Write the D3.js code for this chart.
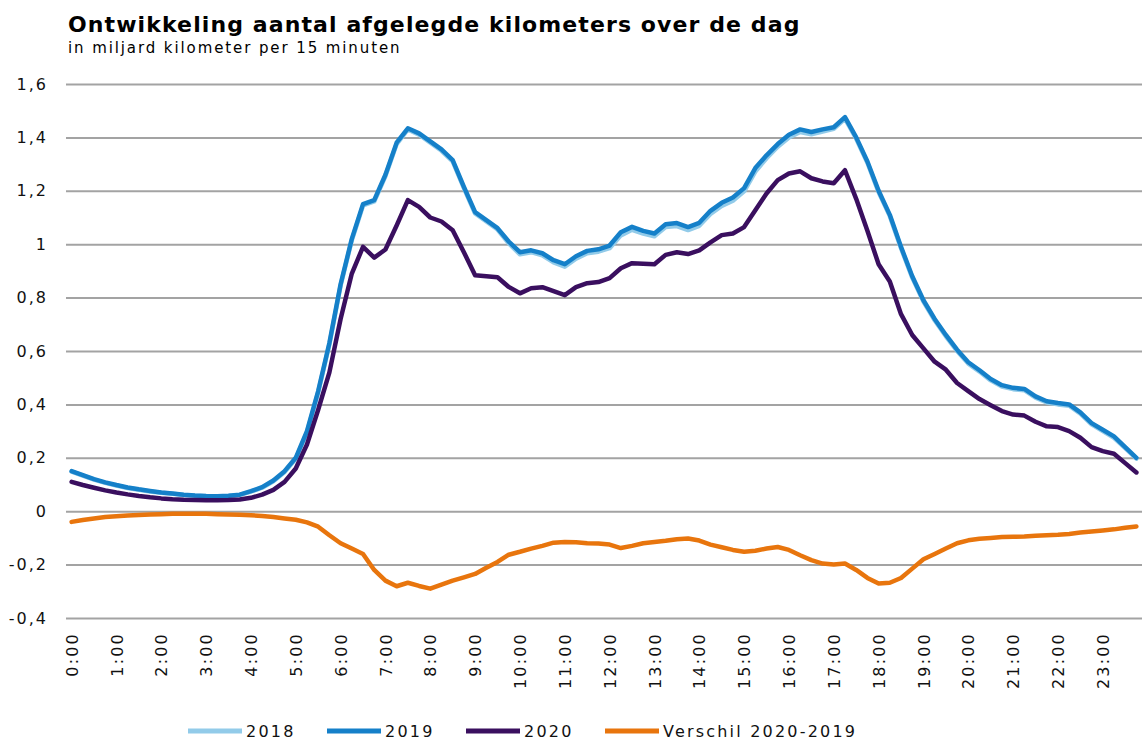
<!DOCTYPE html>
<html>
<head>
<meta charset="utf-8">
<script src="https://cdn.jsdelivr.net/npm/d3@7"></script>
<style>
  body { margin: 0; background: #fff; }
  svg { display: block; font-family: Verdana, "DejaVu Sans", sans-serif; }
</style>
</head>
<body>
<svg id="chart" width="1144" height="740"></svg>
<script>
// quarter-hour slots of the day (0:00 .. 23:45)
var quarters = d3.range(96).map(function (i) {
  return Math.floor(i / 4) + ":" + String((i % 4) * 15).padStart(2, "0");
});
var hourLabels = ["0:00", "1:00", "2:00", "3:00", "4:00", "5:00", "6:00", "7:00", "8:00", "9:00", "10:00", "11:00",
  "12:00", "13:00", "14:00", "15:00", "16:00", "17:00", "18:00", "19:00", "20:00", "21:00", "22:00", "23:00"];
var yTicks = [-0.4, -0.2, 0, 0.2, 0.4, 0.6, 0.8, 1.0, 1.2, 1.4, 1.6];
var seriesNames = ["2018", "2019", "2020", "Verschil 2020-2019"];

var km2018 = [0.148, 0.133, 0.118, 0.106, 0.096, 0.087, 0.080, 0.074, 0.069, 0.065, 0.061, 0.058,
  0.056, 0.055, 0.057, 0.061, 0.073, 0.088, 0.112, 0.147, 0.196, 0.295, 0.445, 0.625,
  0.845, 1.015, 1.145, 1.160, 1.255, 1.375, 1.430, 1.410, 1.380, 1.350, 1.310, 1.210,
  1.115, 1.085, 1.055, 1.003, 0.962, 0.970, 0.958, 0.932, 0.916, 0.946, 0.966, 0.972,
  0.985, 1.033, 1.054, 1.040, 1.030, 1.064, 1.068, 1.053, 1.069, 1.113, 1.143, 1.163,
  1.198, 1.272, 1.322, 1.365, 1.400, 1.420, 1.412, 1.422, 1.432, 1.470, 1.395, 1.305,
  1.195, 1.105, 0.985, 0.875, 0.785, 0.715, 0.655, 0.600, 0.553, 0.523, 0.490, 0.467,
  0.457, 0.453, 0.425, 0.407, 0.400, 0.395, 0.365, 0.325, 0.300, 0.275, 0.236, 0.197];

var km2019 = [0.150, 0.135, 0.120, 0.108, 0.098, 0.089, 0.082, 0.076, 0.070, 0.066, 0.062, 0.059,
  0.057, 0.056, 0.058, 0.062, 0.075, 0.090, 0.115, 0.150, 0.200, 0.300, 0.450, 0.630,
  0.850, 1.020, 1.150, 1.165, 1.260, 1.380, 1.434, 1.415, 1.385, 1.355, 1.315, 1.215,
  1.120, 1.090, 1.060, 1.010, 0.970, 0.977, 0.966, 0.940, 0.925, 0.955, 0.975, 0.981,
  0.995, 1.045, 1.065, 1.050, 1.040, 1.075, 1.079, 1.064, 1.080, 1.125, 1.155, 1.175,
  1.210, 1.285, 1.333, 1.375, 1.410, 1.430, 1.420, 1.430, 1.438, 1.476, 1.400, 1.310,
  1.200, 1.110, 0.990, 0.880, 0.790, 0.720, 0.660, 0.605, 0.558, 0.528, 0.495, 0.472,
  0.462, 0.458, 0.430, 0.412, 0.405, 0.400, 0.370, 0.330, 0.305, 0.280, 0.240, 0.200];

var km2020 = [0.110, 0.098, 0.088, 0.078, 0.070, 0.063, 0.057, 0.052, 0.048, 0.045, 0.043, 0.042,
  0.041, 0.041, 0.042, 0.044, 0.050, 0.062, 0.080, 0.110, 0.160, 0.250, 0.380, 0.520,
  0.720, 0.890, 0.990, 0.950, 0.980, 1.070, 1.165, 1.140, 1.100, 1.085, 1.052, 0.970,
  0.884, 0.880, 0.876, 0.840, 0.816, 0.835, 0.839, 0.824, 0.809, 0.839, 0.854, 0.858,
  0.873, 0.910, 0.929, 0.927, 0.925, 0.960, 0.970, 0.963, 0.977, 1.007, 1.034, 1.040,
  1.064, 1.127, 1.190, 1.240, 1.265, 1.273, 1.247, 1.235, 1.228, 1.277, 1.170, 1.050,
  0.925, 0.860, 0.738, 0.660, 0.610, 0.560, 0.530, 0.480, 0.450, 0.420, 0.397, 0.375,
  0.362, 0.358, 0.335, 0.318, 0.315, 0.300, 0.275, 0.240, 0.225, 0.215, 0.180, 0.145];

var verschil = [-0.040, -0.033, -0.027, -0.022, -0.019, -0.016, -0.014, -0.012, -0.011, -0.010, -0.010, -0.010,
  -0.010, -0.011, -0.012, -0.013, -0.015, -0.018, -0.022, -0.027, -0.032, -0.042, -0.058, -0.090,
  -0.120, -0.140, -0.160, -0.220, -0.260, -0.281, -0.268, -0.280, -0.290, -0.275, -0.260, -0.248,
  -0.235, -0.212, -0.190, -0.163, -0.152, -0.140, -0.130, -0.118, -0.115, -0.116, -0.120, -0.121,
  -0.125, -0.138, -0.130, -0.120, -0.115, -0.111, -0.105, -0.102, -0.110, -0.125, -0.135, -0.145,
  -0.152, -0.148, -0.140, -0.134, -0.145, -0.165, -0.183, -0.196, -0.200, -0.196, -0.220, -0.250,
  -0.271, -0.268, -0.250, -0.215, -0.180, -0.160, -0.140, -0.120, -0.109, -0.103, -0.100, -0.097,
  -0.096, -0.095, -0.092, -0.090, -0.088, -0.085, -0.080, -0.076, -0.072, -0.068, -0.062, -0.057];

var colors = ["#92cbe9", "#1580c9", "#3a0f5f", "#e8750d"];

var svg = d3.select("#chart");

var x = d3.scalePoint().domain(quarters).range([66, 1142]).padding(0.5);
var y = d3.scaleLinear().domain([-0.4, 1.6]).range([618, 84]);

var nl = d3.formatLocale({ decimal: ",", thousands: ".", grouping: [3], currency: ["€", ""], minus: "-" });
var fmt = nl.format(".1~f");

// titles
svg.append("text")
  .attr("x", 68).attr("y", 32)
  .attr("font-size", 22).attr("font-weight", "bold").attr("letter-spacing", 1.1)
  .attr("fill", "#000")
  .text("Ontwikkeling aantal afgelegde kilometers over de dag");
svg.append("text")
  .attr("x", 68).attr("y", 53)
  .attr("font-size", 15).attr("letter-spacing", 1.9)
  .attr("fill", "#000")
  .text("in miljard kilometer per 15 minuten");

// y axis + gridlines
var yAxis = svg.append("g")
  .attr("transform", "translate(66,0)")
  .call(d3.axisLeft(y).tickValues(yTicks).tickFormat(fmt).tickSize(-(1142 - 66)).tickPadding(18));
yAxis.select(".domain").remove();
yAxis.selectAll(".tick line").attr("stroke", "#a3a3a3").attr("stroke-width", 2);
yAxis.selectAll(".tick text")
  .attr("font-size", 16).attr("letter-spacing", 2).attr("fill", "#111")
  .attr("font-family", "Verdana, 'DejaVu Sans', sans-serif");

// x axis
var xAxis = svg.append("g")
  .attr("transform", "translate(0,618)")
  .call(d3.axisBottom(x).tickValues(hourLabels).tickSize(0));
xAxis.select(".domain").remove();
xAxis.selectAll(".tick text")
  .attr("transform", "rotate(-90)")
  .attr("text-anchor", "end")
  .attr("x", -14).attr("y", 0).attr("dy", "0.35em")
  .attr("font-size", 16).attr("letter-spacing", 2.2).attr("fill", "#111")
  .attr("font-family", "Verdana, 'DejaVu Sans', sans-serif");

// lines
var line = d3.line()
  .x(function (d, i) { return x(quarters[i]); })
  .y(function (d) { return y(d); });

var allSeries = [km2018, km2019, km2020, verschil];
allSeries.forEach(function (s, k) {
  svg.append("path")
    .datum(s)
    .attr("fill", "none")
    .attr("stroke", colors[k])
    .attr("stroke-width", 4.5)
    .attr("stroke-linejoin", "round")
    .attr("stroke-linecap", "round")
    .attr("d", line);
});

// legend
var legendX = [188, 327, 466, 605];
var legend = svg.append("g").attr("transform", "translate(0,731)");
seriesNames.forEach(function (name, k) {
  legend.append("line")
    .attr("x1", legendX[k]).attr("x2", legendX[k] + 54)
    .attr("y1", 0).attr("y2", 0)
    .attr("stroke", colors[k]).attr("stroke-width", 5);
  legend.append("text")
    .attr("x", legendX[k] + 58).attr("y", 0).attr("dy", "0.36em")
    .attr("font-size", 16).attr("letter-spacing", 2.2).attr("fill", "#111")
    .text(name);
});
</script>
</body>
</html>
